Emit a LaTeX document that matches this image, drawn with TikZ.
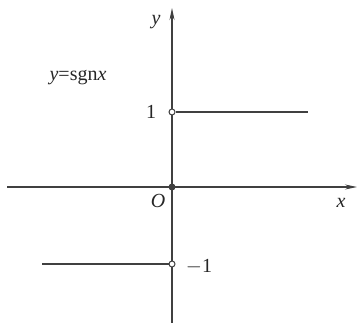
\documentclass[tikz,border=0pt]{standalone}
\usepackage{fontspec}
\setmainfont{Liberation Serif}
\usetikzlibrary{arrows.meta}
\begin{document}
\begin{tikzpicture}[x=1pt,y=-1pt,
  axis/.style={draw=black!75,line width=1.1pt,-{Stealth[length=12pt,width=5pt]}},
  graph/.style={draw=black!75,line width=2pt},
  lbl/.style={font=\fontsize{20}{22}\selectfont,text=black!85,inner sep=0pt},
  hole/.style={circle,draw=black!75,fill=white,line width=1pt,minimum size=6pt,inner sep=0pt},
  dot/.style={circle,fill=black!75,minimum size=7pt,inner sep=0pt}]
\useasboundingbox (0,0) rectangle (358,323);
\coordinate (xs) at (7,187);
\coordinate (xe) at (357,187);
\coordinate (ys) at (172,323);
\coordinate (ye) at (172,8);
\draw[axis] (xs) -- (xe);
\draw[axis] (ys) -- (ye);
\coordinate (pe) at (308,112);
\coordinate (ns) at (42,264);
\node[hole] (p) at (172,112) {};
\node[hole] (n) at (172,264) {};
\draw[graph] (p.east) -- (pe);
\draw[graph] (ns) -- (n.west);
\node[dot] (o) at (172,187) {};
\node[lbl] (ylab) at (156,22) {\textit{y}};
\node[lbl] (xlab) at (341,203) {\textit{x}};
\node[lbl] (olab) at (158,201) {\textit{O}};
\node[lbl] (one) at (151,112) {1};
\node[lbl] (mone) at (199,267) {$-$1};
\node[lbl] (fn) at (78,78) {\textit{y}=sgn\textit{x}};
\end{tikzpicture}
\end{document}
